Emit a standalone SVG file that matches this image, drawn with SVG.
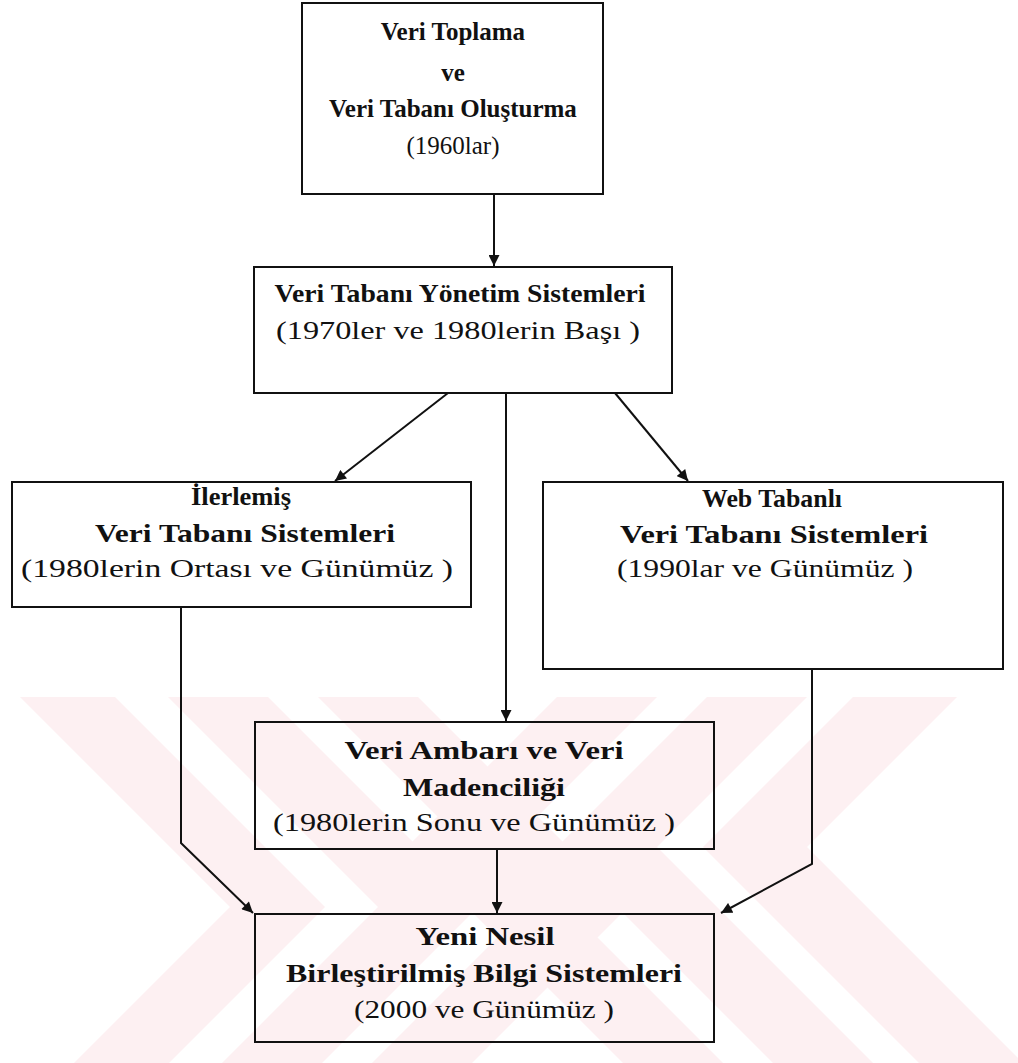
<svg xmlns="http://www.w3.org/2000/svg" width="1018" height="1063" viewBox="0 0 1018 1063">
  <defs>
    <style>
      .box { fill: none; stroke: #111; stroke-width: 2; }
      .wire { fill: none; stroke: #111; stroke-width: 2; }
      .t { font-family: "Liberation Serif", "Times New Roman", serif; font-size: 25px; fill: #111; text-anchor: middle; }
      .b { font-weight: bold; }
      .wm { fill: #fdf0f2; }
    </style>
    <marker id="arrow" viewBox="0 0 10 10" refX="10" refY="5" markerWidth="12" markerHeight="11" markerUnits="userSpaceOnUse" orient="auto">
      <path d="M0,0 L10,5 L0,10 Z" fill="#111"/>
    </marker>
    <clipPath id="wmClip">
      <rect x="0" y="697" width="1018" height="366"/>
    </clipPath>
  </defs>

  <rect width="1018" height="1063" fill="#fff"/>

  <!-- background watermark stripes -->
  <g id="watermark" clip-path="url(#wmClip)">
    <polygon class="wm" points="20,697 115,697 325,907 169,1063 74,1063 230,907"/>
    <polygon class="wm" points="168,697 268,697 478,907 322,1063 222,1063 378,907"/>
    <polygon class="wm" points="318,697 418,697 628,907 472,1063 372,1063 528,907"/>
    <polygon class="wm" points="957,697 853,697 703,847 919,1063 1023,1063 807,847"/>
    <polygon class="wm" points="807,697 707,697 557,847 773,1063 873,1063 657,847"/>
    <polygon class="wm" points="657,697 557,697 407,847 623,1063 723,1063 507,847"/>
  </g>

  <!-- connectors -->
  <g id="connectors">
    <line class="wire" x1="494" y1="194" x2="494" y2="266" marker-end="url(#arrow)"/>
    <line class="wire" x1="448" y1="393" x2="335" y2="481" marker-end="url(#arrow)"/>
    <line class="wire" x1="506" y1="393" x2="506" y2="721" marker-end="url(#arrow)"/>
    <line class="wire" x1="615" y1="393" x2="688" y2="481" marker-end="url(#arrow)"/>
    <polyline class="wire" points="181,607 181,843 253,913" marker-end="url(#arrow)"/>
    <line class="wire" x1="497" y1="849" x2="497" y2="913" marker-end="url(#arrow)"/>
    <polyline class="wire" points="812,669 812,864 721,913" marker-end="url(#arrow)"/>
  </g>

  <g id="veri-toplama">
    <rect class="box" x="302" y="3" width="301" height="191"/>
    <text class="t b" x="453" y="40">Veri Toplama</text>
    <text class="t b" x="453" y="81">ve</text>
    <text class="t b" x="453" y="117">Veri Tabanı Oluşturma</text>
    <text class="t" x="453" y="154">(1960lar)</text>
  </g>

  <g id="vtys">
    <rect class="box" x="254" y="267" width="418" height="126"/>
    <text class="t b" x="460" y="302" textLength="371" lengthAdjust="spacingAndGlyphs">Veri Tabanı Yönetim Sistemleri</text>
    <text class="t" x="458" y="339" textLength="364" lengthAdjust="spacingAndGlyphs">(1970ler ve 1980lerin Başı )</text>
  </g>

  <g id="ilerlemis">
    <rect class="box" x="12" y="482" width="459" height="125"/>
    <text class="t b" x="241" y="505" textLength="100" lengthAdjust="spacingAndGlyphs">İlerlemiş</text>
    <text class="t b" x="245" y="542" textLength="300" lengthAdjust="spacingAndGlyphs">Veri Tabanı Sistemleri</text>
    <text class="t" x="237" y="577" textLength="432" lengthAdjust="spacingAndGlyphs">(1980lerin Ortası ve Günümüz )</text>
  </g>

  <g id="web-tabanli">
    <rect class="box" x="543" y="482" width="460" height="187"/>
    <text class="t b" x="772" y="507" textLength="140" lengthAdjust="spacingAndGlyphs">Web Tabanlı</text>
    <text class="t b" x="774" y="543" textLength="308" lengthAdjust="spacingAndGlyphs">Veri Tabanı Sistemleri</text>
    <text class="t" x="765" y="577" textLength="296" lengthAdjust="spacingAndGlyphs">(1990lar ve Günümüz )</text>
  </g>

  <g id="veri-ambari">
    <rect class="box" x="255" y="722" width="459" height="127"/>
    <text class="t b" x="484" y="759" textLength="279" lengthAdjust="spacingAndGlyphs">Veri Ambarı ve Veri</text>
    <text class="t b" x="484" y="796" textLength="162" lengthAdjust="spacingAndGlyphs">Madenciliği</text>
    <text class="t" x="474" y="831" textLength="402" lengthAdjust="spacingAndGlyphs">(1980lerin Sonu ve Günümüz )</text>
  </g>

  <g id="yeni-nesil">
    <rect class="box" x="255" y="914" width="459" height="128"/>
    <text class="t b" x="485" y="945" textLength="139" lengthAdjust="spacingAndGlyphs">Yeni Nesil</text>
    <text class="t b" x="484" y="982" textLength="396" lengthAdjust="spacingAndGlyphs">Birleştirilmiş Bilgi Sistemleri</text>
    <text class="t" x="484" y="1018" textLength="260" lengthAdjust="spacingAndGlyphs">(2000 ve Günümüz )</text>
  </g>
</svg>
